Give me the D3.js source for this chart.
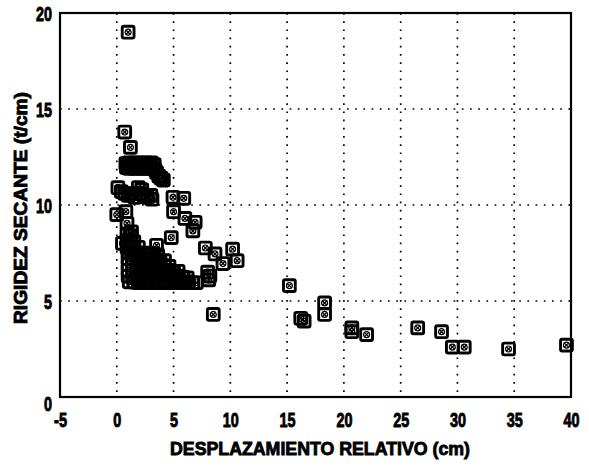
<!DOCTYPE html>
<html>
<head>
<meta charset="utf-8">
<script src="https://cdn.jsdelivr.net/npm/d3@7"></script>
<style>
  html, body { margin: 0; padding: 0; background: #fff; }
  svg text { font-family: "Liberation Sans", Arial, sans-serif; font-weight: bold; fill: #000; stroke: #000; stroke-width: 0.9px; }
</style>
</head>
<body>
<svg id="chart" width="589" height="470"></svg>
<script>
// Secant stiffness versus relative displacement
const xTicks = [-5, 0, 5, 10, 15, 20, 25, 30, 35, 40];
const yTicks = [0, 5, 10, 15, 20];
const xTitle = "DESPLAZAMIENTO RELATIVO (cm)";
const yTitle = "RIGIDEZ SECANTE (t/cm)";

// relative displacement (cm)
const desplazamiento = [
  1.0, 0.7, 1.2,
  0.8, 1.05, 1.3, 1.55, 1.8, 2.05, 2.3, 2.55, 2.8, 3.05, 3.3,
  0.85, 1.1, 1.35, 1.6, 1.85, 2.1, 2.35, 2.6, 2.85, 3.1, 3.35,
  3.5, 3.7, 3.9, 4.1,
  0.1, 0.4, 0.7, 1.0, 1.3, 1.6, 1.9, 2.1, 2.2, 2.4, 2.7, 3.0, 3.1,
  4.95, 5.9,
  0.0, 0.8, 0.9, 1.3, 5.0, 6.0, 6.9, 6.7, 4.8, 0.5,
  0.9, 1.2,
  0.9, 1.2, 1.5,
  0.9, 1.2, 1.5, 1.9, 3.5,
  1.0, 1.3, 1.6, 2.0, 2.4, 2.8, 3.2, 3.6,
  1.0, 1.4, 1.8, 2.2, 2.6, 3.0, 3.4, 3.8, 4.2,
  1.0, 1.4, 1.8, 2.2, 2.6, 3.0, 3.4, 3.8, 4.2, 4.6,
  1.0, 1.4, 1.8, 2.2, 2.6, 3.0, 3.4, 3.8, 4.2, 4.6, 5.0, 5.4,
  1.0, 1.4, 1.8, 2.2, 2.6, 3.0, 3.4, 3.8, 4.2, 4.6, 5.0, 5.4, 5.8, 6.2,
  1.1, 1.5, 1.9, 2.3, 2.7, 3.1, 3.5, 3.9, 4.3, 4.7, 5.1, 5.5, 5.9, 6.3, 6.7, 7.0,
  7.8, 8.65, 9.35, 10.2, 10.6, 8.0, 8.2, 8.1, 8.5,
  15.2, 16.2, 16.5, 18.3, 18.3, 20.7, 20.7, 22.0, 26.5, 28.6, 29.55, 30.6, 34.5, 39.6
];

// secant stiffness (t/cm)
const rigidez = [
  19.0, 13.8, 13.0,
  12.15, 12.2, 12.15, 12.2, 12.15, 12.2, 12.15, 12.2, 12.15, 12.2, 12.1,
  11.95, 11.9, 11.95, 11.9, 11.95, 11.9, 11.95, 11.9, 11.95, 11.9, 11.85,
  11.7, 11.5, 11.4, 11.3,
  10.9, 10.7, 10.6, 10.5, 10.6, 10.4, 10.9, 10.6, 10.8, 10.5, 10.4, 10.5, 10.3,
  10.4, 10.35,
  9.5, 9.65, 9.05, 8.6, 9.65, 9.3, 9.1, 8.65, 8.3, 8.0,
  8.5, 8.4,
  8.15, 8.1, 8.1,
  7.8, 7.8, 7.75, 7.8, 7.9,
  7.5, 7.5, 7.45, 7.5, 7.45, 7.5, 7.45, 7.4,
  7.2, 7.2, 7.15, 7.2, 7.15, 7.2, 7.15, 7.1, 7.1,
  6.9, 6.9, 6.85, 6.9, 6.85, 6.9, 6.85, 6.9, 6.85, 6.8,
  6.6, 6.6, 6.55, 6.6, 6.55, 6.6, 6.55, 6.6, 6.55, 6.6, 6.5, 6.55,
  6.3, 6.3, 6.25, 6.3, 6.25, 6.3, 6.25, 6.3, 6.25, 6.3, 6.25, 6.3, 6.25, 6.2,
  6.0, 6.0, 5.95, 6.0, 5.95, 6.0, 5.95, 6.0, 5.95, 6.0, 5.95, 6.0, 5.95, 6.0, 5.95, 5.95,
  7.76, 7.45, 6.95, 7.7, 7.1, 6.5, 6.3, 6.1, 4.3,
  5.8, 4.1, 3.95, 4.9, 4.3, 3.6, 3.4, 3.25, 3.6, 3.4, 2.6, 2.6, 2.5, 2.7
];

const points = desplazamiento.map((d, i) => ({ x: d, y: rigidez[i] }));

const svg = d3.select("#chart");
const margin = { left: 60, top: 13, right: 18, bottom: 73 };
const W = 589 - margin.left - margin.right;
const H = 470 - margin.top - margin.bottom;

const x = d3.scaleLinear().domain([-5, 40]).range([0, W]);
const y = d3.scaleLinear().domain([0, 20]).range([H, 0]);

const g = svg.append("g").attr("transform", `translate(${margin.left},${margin.top})`);

// dotted grid
g.append("g").selectAll("line")
  .data(xTicks.filter(v => v > -5 && v < 40))
  .join("line")
  .attr("x1", d => x(d)).attr("x2", d => x(d))
  .attr("y1", 0).attr("y2", H)
  .attr("stroke", "#000").attr("stroke-width", 1.7)
  .attr("stroke-dasharray", "1.7,6.5");

g.append("g").selectAll("line")
  .data(yTicks.filter(v => v > 0 && v < 20))
  .join("line")
  .attr("x1", 0).attr("x2", W)
  .attr("y1", d => y(d)).attr("y2", d => y(d))
  .attr("stroke", "#000").attr("stroke-width", 1.7)
  .attr("stroke-dasharray", "1.7,6.5");

// frame
g.append("rect")
  .attr("x", 0).attr("y", 0).attr("width", W).attr("height", H)
  .attr("fill", "none").attr("stroke", "#000").attr("stroke-width", 2.2);

// axes (labels only, no tick marks)
const xAxis = d3.axisBottom(x).tickValues(xTicks).tickFormat(d => String(d)).tickSize(0).tickPadding(0);
const xg = g.append("g").attr("transform", `translate(0,${H})`).call(xAxis);
xg.select(".domain").remove();
xg.selectAll("text")
  .attr("dy", null).attr("y", 30)
  .attr("font-size", 20)
  .attr("textLength", d => (String(d).length === 1 ? 8 : (d < 0 ? 13 : 16)))
  .attr("lengthAdjust", "spacingAndGlyphs")
  .style("font-family", "Liberation Sans, Arial, sans-serif")
  .style("font-weight", "bold");

const yAxis = d3.axisLeft(y).tickValues(yTicks).tickFormat(d => String(d)).tickSize(0).tickPadding(0);
const yg = g.append("g").call(yAxis);
yg.select(".domain").remove();
yg.selectAll("text")
  .attr("x", -8).attr("dy", "0.36em")
  .attr("font-size", 20)
  .attr("textLength", d => (String(d).length === 1 ? 8 : 16))
  .attr("lengthAdjust", "spacingAndGlyphs")
  .style("font-family", "Liberation Sans, Arial, sans-serif")
  .style("font-weight", "bold");
yg.selectAll(".tick").filter(d => d === 0).select("text").attr("dy", "0.66em");

// axis titles
svg.append("text")
  .attr("x", 320).attr("y", 455)
  .attr("text-anchor", "middle")
  .attr("font-size", 19)
  .attr("textLength", 300)
  .attr("lengthAdjust", "spacingAndGlyphs")
  .text(xTitle);

svg.append("text")
  .attr("transform", "translate(27,208) rotate(-90)")
  .attr("text-anchor", "middle")
  .attr("font-size", 18)
  .attr("textLength", 232)
  .attr("lengthAdjust", "spacingAndGlyphs")
  .text(yTitle);

// boxed-cross markers
const s = 5.9;
const mk = g.append("g").selectAll("g")
  .data(points)
  .join("g")
  .attr("transform", d => `translate(${x(d.x)},${y(d.y)})`);

mk.append("rect")
  .attr("x", -s).attr("y", -s).attr("width", 2 * s).attr("height", 2 * s)
  .attr("rx", 1.6)
  .attr("fill", "none").attr("stroke", "#000").attr("stroke-width", 2.9);
mk.append("circle")
  .attr("r", 3.0)
  .attr("fill", "none").attr("stroke", "#000").attr("stroke-width", 1.2);
mk.append("path")
  .attr("d", "M-2.5,-2.5L2.5,2.5M-2.5,2.5L2.5,-2.5")
  .attr("stroke", "#000").attr("stroke-width", 1.3);
</script>
</body>
</html>
